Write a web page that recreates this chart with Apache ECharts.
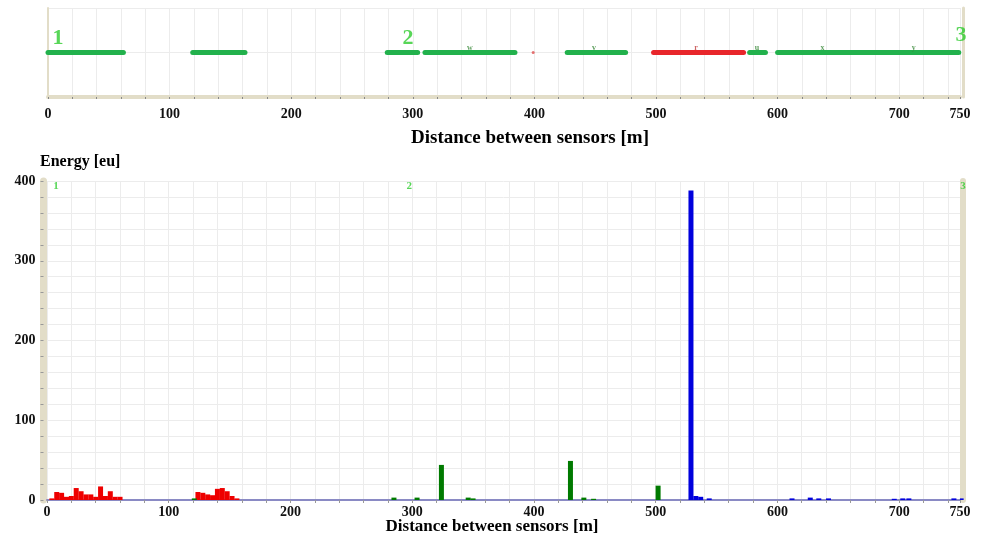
<!DOCTYPE html>
<html>
<head>
<meta charset="utf-8">
<script src="https://cdn.jsdelivr.net/npm/echarts@6/dist/echarts.min.js"></script>
<style>
  html, body { margin: 0; padding: 0; background: #fff; }
  #chart { width: 982px; height: 544px; }
</style>
</head>
<body>
<div id="chart"></div>
<script>
// top strip: pipe segments [start, end] in metres
const greenSegs = [[0, 62], [119, 162], [279, 304], [310, 384], [427, 475], [577, 590], [600, 749]];
const redSegs = [[498, 572]];
const redSpots = [399];
const segLetters = ['w', 'v', 'r', 'u', 'x', 'y'];
const segLetterPos = [347, 449, 533, 583, 637, 712];

// sensors
const sensorNames = ['1', '2', '3'];
const sensorPos = [0, 296, 750];

// bottom histogram
const redPos = [4, 8, 12, 16, 20, 24, 28, 32, 36, 40, 44, 48, 52, 56, 60,
    124, 128, 132, 136, 140, 144, 148, 152, 156];
const redVal = [2, 10, 9, 4, 5, 15, 11, 7, 7, 4, 17, 5, 11, 4, 4,
    10, 9, 7, 6, 14, 15, 11, 5, 2];
const greenPos = [121, 285, 304, 324, 346, 350, 430, 441, 449, 502];
const greenVal = [2, 3, 3, 44, 3, 2, 49, 3, 1.5, 18];
const bluePos = [529, 533, 537, 544, 612, 627, 634, 642, 696, 703, 708, 745, 752];
const blueVal = [388, 5, 4, 2, 2, 3, 2, 2, 1.5, 2, 2, 2, 2];

// tick labels
const xTickLabels = [0, 100, 200, 300, 400, 500, 600, 700, 750];
const yTickLabels = [0, 100, 200, 300, 400];

const serif = 'Liberation Serif';
const beige = '#e2ddc8';
const gridColor = '#ececec';

const chart = echarts.init(document.getElementById('chart'));

function pairs(pos, val) {
    return pos.map((p, i) => [p, val[i]]);
}

function segItem(params, api) {
    const a = api.coord([api.value(0), 0]);
    const b = api.coord([api.value(1), 0]);
    return {
        type: 'line',
        shape: { x1: a[0], y1: a[1], x2: b[0], y2: b[1] },
        style: { stroke: api.visual('color'), lineWidth: 5, lineCap: 'round' }
    };
}

const xLabel = {
    fontFamily: serif, fontWeight: 'bold', fontSize: 14, color: '#111',
    formatter: v => (xTickLabels.indexOf(v) >= 0 ? String(v) : '')
};

const option = {
    animation: false,
    grid: [
        { left: 48, right: 22, top: 8, height: 89 },
        { left: 47, right: 22, top: 181, height: 319 }
    ],
    xAxis: [
        {
            type: 'value', gridIndex: 0, min: 0, max: 750, interval: 20,
            axisLine: { onZero: false, lineStyle: { color: beige, width: 4 } },
            axisTick: { length: 2, lineStyle: { color: '#888' } },
            axisLabel: Object.assign({ margin: 10 }, xLabel),
            splitLine: { lineStyle: { color: gridColor } }
        },
        {
            type: 'value', gridIndex: 1, min: 0, max: 750, interval: 20,
            axisLine: { onZero: false, lineStyle: { color: '#8a8ac4', width: 2 } },
            axisTick: { length: 3, lineStyle: { color: '#999' } },
            axisLabel: Object.assign({ margin: 5 }, xLabel),
            splitLine: { lineStyle: { color: gridColor } }
        }
    ],
    yAxis: [
        {
            type: 'value', gridIndex: 0, min: -1, max: 1, interval: 1,
            axisLine: { show: true, onZero: false, lineStyle: { color: beige, width: 2 } },
            axisTick: { show: false },
            axisLabel: { show: false },
            splitLine: { lineStyle: { color: gridColor } }
        },
        {
            type: 'value', gridIndex: 0, position: 'right', min: -1, max: 1, offset: 3,
            axisLine: { show: true, onZero: false, lineStyle: { color: beige, width: 3 } },
            axisTick: { show: false }, axisLabel: { show: false }, splitLine: { show: false }
        },
        {
            type: 'value', gridIndex: 1, min: 0, max: 400, interval: 20, offset: 3.5,
            axisLine: { show: true, onZero: false, lineStyle: { color: beige, width: 7 } },
            axisTick: { show: true, length: 3, lineStyle: { color: '#999' } },
            axisLabel: {
                margin: 8, fontFamily: serif, fontWeight: 'bold', fontSize: 14, color: '#111',
                formatter: v => (yTickLabels.indexOf(v) >= 0 ? String(v) : '')
            },
            splitLine: { lineStyle: { color: gridColor } }
        },
        {
            type: 'value', gridIndex: 1, position: 'right', min: 0, max: 400, offset: 3,
            axisLine: { show: true, onZero: false, lineStyle: { color: beige, width: 6 } },
            axisTick: { show: false }, axisLabel: { show: false }, splitLine: { show: false }
        }
    ],
    graphic: [
        {
            type: 'text', x: 530, y: 138,
            style: {
                text: 'Distance between sensors [m]', textAlign: 'center', textVerticalAlign: 'middle',
                font: 'bold 19px "Liberation Serif"', fill: '#000'
            }
        },
        {
            type: 'text', x: 492, y: 527,
            style: {
                text: 'Distance between sensors [m]', textAlign: 'center', textVerticalAlign: 'middle',
                font: 'bold 17px "Liberation Serif"', fill: '#000'
            }
        },
        {
            type: 'text', x: 40, y: 162,
            style: {
                text: 'Energy [eu]', textAlign: 'left', textVerticalAlign: 'middle',
                font: 'bold 16px "Liberation Serif"', fill: '#000'
            }
        }
    ],
    series: [
        {
            type: 'custom', xAxisIndex: 0, yAxisIndex: 0, color: '#22b14c',
            renderItem: segItem, encode: { x: [0, 1] },
            data: greenSegs
        },
        {
            type: 'custom', xAxisIndex: 0, yAxisIndex: 0, color: '#e8262b',
            renderItem: segItem, encode: { x: [0, 1] },
            data: redSegs
        },
        {
            type: 'scatter', xAxisIndex: 0, yAxisIndex: 0, symbolSize: 3,
            itemStyle: { color: '#e05050' },
            data: redSpots.map(p => [p, 0])
        },
        {
            type: 'scatter', xAxisIndex: 0, yAxisIndex: 0, symbolSize: 0,
            data: segLetterPos.map((p, i) => ({
                value: [p, 0], name: segLetters[i],
                label: { color: segLetters[i] === 'r' ? '#c04040' : '#3a8a3a' }
            })),
            label: {
                show: true, position: 'top', distance: 1, formatter: '{b}',
                fontSize: 8, fontWeight: 'bold', fontFamily: serif
            }
        },
        {
            type: 'scatter', xAxisIndex: 0, yAxisIndex: 0, symbolSize: 0,
            data: sensorPos.map((p, i) => ({ value: [p, 0], name: sensorNames[i] })),
            label: {
                show: true, position: 'inside', formatter: '{b}',
                fontSize: 22, fontWeight: 'bold', fontFamily: serif, color: '#2ecc2e'
            },
            labelLayout: params => ({
                dx: [10, 0, 1][params.dataIndex],
                dy: [-14, -14, -17][params.dataIndex]
            })
        },
        {
            type: 'scatter', xAxisIndex: 1, yAxisIndex: 2, symbolSize: 0,
            data: sensorPos.map((p, i) => ({ value: [p, 400], name: sensorNames[i] })),
            label: {
                show: true, position: 'inside', formatter: '{b}',
                fontSize: 11, fontWeight: 'bold', fontFamily: serif, color: '#2ecc2e'
            },
            labelLayout: params => ({ dx: [9, 2, 3][params.dataIndex], dy: 5 })
        },
        {
            type: 'bar', xAxisIndex: 1, yAxisIndex: 2, barWidth: 5, barGap: '-100%',
            itemStyle: { color: '#ee0000' },
            data: pairs(redPos, redVal)
        },
        {
            type: 'bar', xAxisIndex: 1, yAxisIndex: 2, barWidth: 5, barGap: '-100%',
            itemStyle: { color: '#007a00' },
            data: pairs(greenPos, greenVal)
        },
        {
            type: 'bar', xAxisIndex: 1, yAxisIndex: 2, barWidth: 5, barGap: '-100%',
            itemStyle: { color: '#0000dd' },
            data: pairs(bluePos, blueVal)
        }
    ]
};

chart.setOption(option);
</script>
</body>
</html>
